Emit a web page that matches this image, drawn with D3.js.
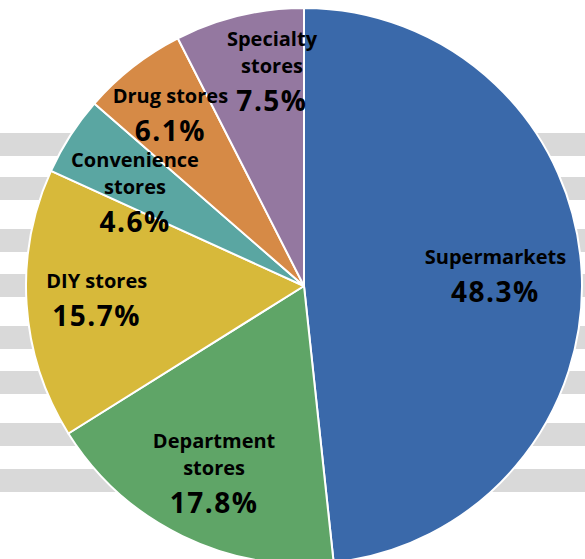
<!DOCTYPE html>
<html>
<head>
<meta charset="utf-8">
<script src="https://cdn.jsdelivr.net/npm/d3@7"></script>
<style>
  body { margin: 0; background: #fff; }
  svg { display: block; }
</style>
</head>
<body>
<div id="chart"></div>
<script>
// data
const categories = ['Supermarkets', 'Department stores', 'DIY stores', 'Convenience stores', 'Drug stores', 'Specialty stores'];
const shares = [48.3, 17.8, 15.7, 4.6, 6.1, 7.5];
const sliceColors = ['#3a69aa', '#5fa567', '#d7b93a', '#5aa6a2', '#d68a46', '#9478a0'];

const WIDTH = 585;
const HEIGHT = 559;
const CX = 304;
const CY = 286;
const RADIUS = 278;

// label layout (name wrapped on two lines or not, small nudges from the centroid)
const wrapName = [false, true, false, true, false, true];
const nudges = [[-14, 0], [0, 3], [-2, 0], [4, 18], [-7, -9], [16, -13.5]];

// grey background stripes
const stripeTops = [133, 177, 229, 274, 326, 371, 423, 469];
const STRIPE_H = 23;

const svg = d3.select('#chart').append('svg')
  .attr('width', WIDTH)
  .attr('height', HEIGHT);

svg.selectAll('rect.stripe')
  .data(stripeTops)
  .enter()
  .append('rect')
  .attr('class', 'stripe')
  .attr('x', 0)
  .attr('y', d => d)
  .attr('width', WIDTH)
  .attr('height', STRIPE_H)
  .attr('fill', '#d9d9d9');

const color = d3.scaleOrdinal()
  .domain(categories)
  .range(sliceColors);

const pieData = d3.pie()
  .sort(null)
  .value(d => d.value)(categories.map((c, i) => ({ name: c, value: shares[i] })));

const arcCreator = d3.arc()
  .innerRadius(0)
  .outerRadius(RADIUS);

const labelArc = d3.arc()
  .innerRadius(RADIUS * 0.74)
  .outerRadius(RADIUS * 0.74);

const pie = svg.append('g')
  .attr('transform', `translate(${CX}, ${CY})`);

pie.selectAll('path')
  .data(pieData)
  .enter()
  .append('path')
  .attr('d', arcCreator)
  .attr('fill', d => color(d.data.name))
  .attr('stroke', 'white')
  .attr('stroke-width', 2)
  .attr('stroke-linejoin', 'round');

// labels: name (1 or 2 lines) + percentage
const labels = pie.selectAll('text')
  .data(pieData)
  .enter()
  .append('text')
  .attr('text-anchor', 'middle')
  .attr('font-family', '"Open Sans", "Noto Sans", sans-serif')
  .attr('font-weight', 'bold')
  .attr('fill', '#000')
  .attr('transform', (d, i) => {
    const [x, y] = labelArc.centroid(d);
    const first = wrapName[i] ? -26 : -11.5;
    return `translate(${x + nudges[i][0]}, ${y + nudges[i][1] + first})`;
  });

labels.each(function (d, i) {
  const t = d3.select(this);
  const lines = wrapName[i] ? d.data.name.split(' ') : [d.data.name];
  lines.forEach((line, j) => {
    t.append('tspan')
      .attr('x', 0)
      .attr('y', j * 27)
      .attr('font-size', 20)
      .text(line);
  });
  t.append('tspan')
    .attr('x', 0)
    .attr('y', (lines.length - 1) * 27 + 38)
    .attr('font-size', 28)
    .attr('letter-spacing', 1.5)
    .text(d.data.value.toFixed(1) + '%');
});
</script>
</body>
</html>
